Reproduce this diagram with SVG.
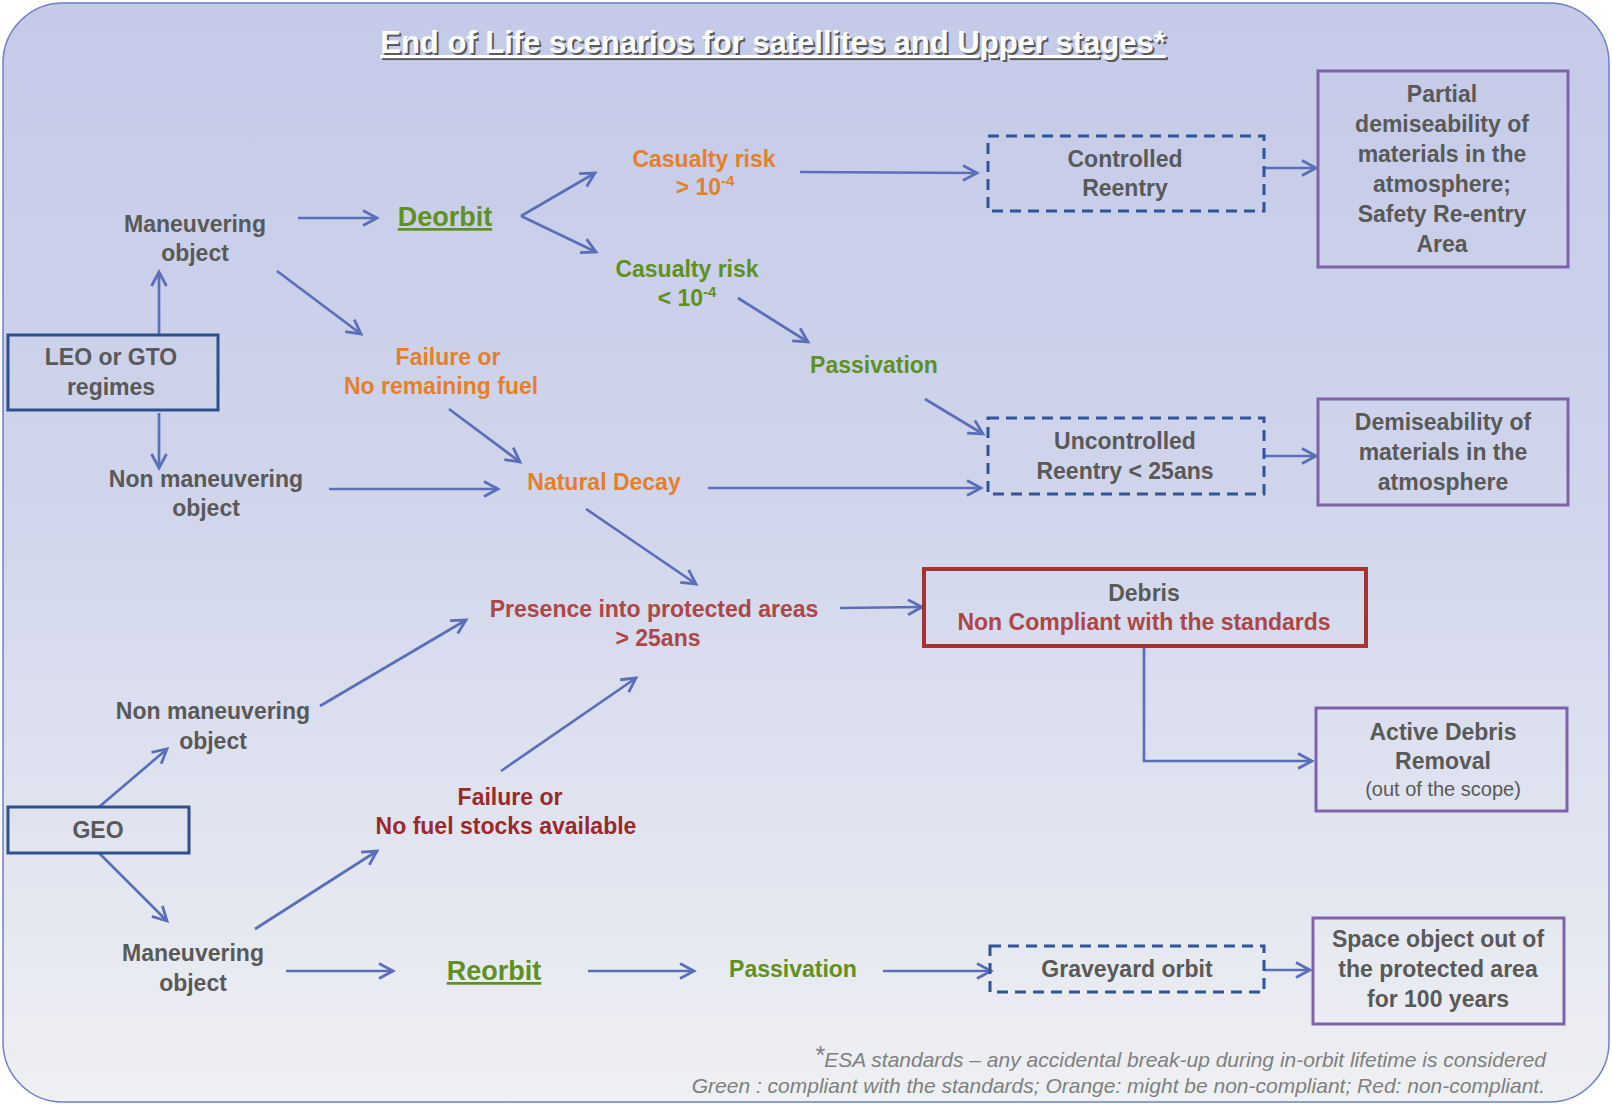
<svg xmlns="http://www.w3.org/2000/svg" width="1612" height="1105" viewBox="0 0 1612 1105">
<defs>
<linearGradient id="bg" x1="0" y1="0" x2="0" y2="1">
<stop offset="0" stop-color="#c4cae8"/>
<stop offset="0.45" stop-color="#d0d5ec"/>
<stop offset="1" stop-color="#eff0f3"/>
</linearGradient>
<marker id="ah" markerWidth="18" markerHeight="18" refX="15" refY="9" orient="auto" markerUnits="userSpaceOnUse">
<path d="M1,1.5 L15,9 L1,16.5" fill="none" stroke="#5b6fb8" stroke-width="2.8"/>
</marker>
<style>
text{font-family:"Liberation Sans",Arial,sans-serif;font-weight:bold;font-size:23px;text-anchor:middle}
.g{fill:#595959}
.or{fill:#e5802a}
.gr{fill:#5f9020}
.rd{fill:#ad4646}
.dr{fill:#9a2a2a}
.big{font-size:27px;text-decoration:underline}
.title{font-size:31px;text-decoration:underline}
.small{font-weight:normal;font-size:20px}
.solid{fill:none;stroke:#2e4f8a;stroke-width:3}
.dash{fill:none;stroke:#2f5597;stroke-width:3;stroke-dasharray:11 7}
.pur{fill:none;stroke:#8062a8;stroke-width:3}
.red{fill:none;stroke:#a83232;stroke-width:4}
#connectors path{fill:none;stroke:#5b6fb8;stroke-width:2.7;marker-end:url(#ah)}
.sup{font-size:15px}
.foot{font-weight:normal;font-style:italic;font-size:21px;fill:#7f7f7f;text-anchor:end}
.ast{font-size:25px}
</style>
</defs>
<rect x="3" y="3" width="1606" height="1099" rx="60" ry="60" fill="url(#bg)" stroke="#6f80c4" stroke-width="1.5"/>
<g id="title">
<text class="title" x="775" y="55" fill="#5a5a5a">End of Life scenarios for satellites and Upper stages*</text>
<text class="title" x="773" y="53" fill="#ffffff">End of Life scenarios for satellites and Upper stages*</text>
</g>
<g id="connectors">
<path d="M159,334 L159,272"/>
<path d="M159,413 L159,468"/>
<path d="M298,218 L377,218"/>
<path d="M277,271 L361,334"/>
<path d="M449,409 L520,462"/>
<path d="M329,489 L498,489"/>
<path d="M521,216 L595,173"/>
<path d="M521,216 L596,252"/>
<path d="M800,172 L977,173"/>
<path d="M738,298 L808,342"/>
<path d="M925,399 L983,434"/>
<path d="M708,488 L981,488"/>
<path d="M1264,168 L1316,168"/>
<path d="M1264,456 L1316,456"/>
<path d="M586,509 L696,584"/>
<path d="M840,608 L922,607"/>
<path d="M1144,646 L1144,761 L1312,761"/>
<path d="M99,807 L167,749"/>
<path d="M99,853 L167,921"/>
<path d="M320,706 L466,620"/>
<path d="M255,929 L377,851"/>
<path d="M501,771 L636,678"/>
<path d="M286,971 L393,971"/>
<path d="M588,971 L694,971"/>
<path d="M883,971 L991,971"/>
<path d="M1264,970 L1310,970"/>
</g>
<g id="leo">
<rect class="solid" x="8" y="335" width="210" height="75"/>
<text class="g" x="111" y="365">LEO or GTO</text>
<text class="g" x="111" y="395">regimes</text>
</g>
<g id="leo-man">
<text class="g" x="195" y="232">Maneuvering</text>
<text class="g" x="195" y="261">object</text>
</g>
<g id="leo-nonman">
<text class="g" x="206" y="487">Non maneuvering</text>
<text class="g" x="206" y="516">object</text>
</g>
<g id="deorbit">
<text class="gr big" x="445" y="226">Deorbit</text>
</g>
<g id="failure-leo">
<text class="or" x="448" y="365">Failure or</text>
<text class="or" x="441" y="394">No remaining fuel</text>
</g>
<g id="natural-decay">
<text class="or" x="604" y="490">Natural Decay</text>
</g>
<g id="casualty-high">
<text class="or" x="704" y="167">Casualty risk</text>
<text class="or" x="705" y="195">&gt; 10<tspan class="sup" dy="-9">-4</tspan></text>
</g>
<g id="casualty-low">
<text class="gr" x="687" y="277">Casualty risk</text>
<text class="gr" x="687" y="306">&lt; 10<tspan class="sup" dy="-9">-4</tspan></text>
</g>
<g id="passivation-leo">
<text class="gr" x="874" y="373">Passivation</text>
</g>
<g id="controlled">
<rect class="dash" x="988" y="136" width="276" height="75"/>
<text class="g" x="1125" y="167">Controlled</text>
<text class="g" x="1125" y="196">Reentry</text>
</g>
<g id="uncontrolled">
<rect class="dash" x="988" y="418" width="276" height="76"/>
<text class="g" x="1125" y="449">Uncontrolled</text>
<text class="g" x="1125" y="479">Reentry &lt; 25ans</text>
</g>
<g id="partial">
<rect class="pur" x="1318" y="71" width="250" height="196"/>
<text class="g" x="1442" y="102">Partial</text>
<text class="g" x="1442" y="132">demiseability of</text>
<text class="g" x="1442" y="162">materials in the</text>
<text class="g" x="1442" y="192">atmosphere;</text>
<text class="g" x="1442" y="222">Safety Re-entry</text>
<text class="g" x="1442" y="252">Area</text>
</g>
<g id="demise">
<rect class="pur" x="1318" y="399" width="250" height="106"/>
<text class="g" x="1443" y="430">Demiseability of</text>
<text class="g" x="1443" y="460">materials in the</text>
<text class="g" x="1443" y="490">atmosphere</text>
</g>
<g id="presence">
<text class="rd" x="654" y="617">Presence into protected areas</text>
<text class="rd" x="658" y="646">&gt; 25ans</text>
</g>
<g id="debris">
<rect class="red" x="924" y="569" width="442" height="77"/>
<text class="g" x="1144" y="601">Debris</text>
<text class="rd" x="1144" y="630">Non Compliant with the standards</text>
</g>
<g id="adr">
<rect class="pur" x="1316" y="708" width="251" height="103"/>
<text class="g" x="1443" y="740">Active Debris</text>
<text class="g" x="1443" y="769">Removal</text>
<text class="g small" x="1443" y="796">(out of the scope)</text>
</g>
<g id="geo">
<rect class="solid" x="8" y="807" width="181" height="46"/>
<text class="g" x="98" y="838">GEO</text>
</g>
<g id="geo-nonman">
<text class="g" x="213" y="719">Non maneuvering</text>
<text class="g" x="213" y="749">object</text>
</g>
<g id="geo-man">
<text class="g" x="193" y="961">Maneuvering</text>
<text class="g" x="193" y="991">object</text>
</g>
<g id="failure-geo">
<text class="dr" x="510" y="805">Failure or</text>
<text class="dr" x="506" y="834">No fuel stocks available</text>
</g>
<g id="reorbit">
<text class="gr big" x="494" y="980">Reorbit</text>
</g>
<g id="passivation-geo">
<text class="gr" x="793" y="977">Passivation</text>
</g>
<g id="graveyard">
<rect class="dash" x="990" y="946" width="274" height="46"/>
<text class="g" x="1127" y="977">Graveyard orbit</text>
</g>
<g id="space-object">
<rect class="pur" x="1313" y="918" width="251" height="106"/>
<text class="g" x="1438" y="947">Space object out of</text>
<text class="g" x="1438" y="977">the protected area</text>
<text class="g" x="1438" y="1007">for 100 years</text>
</g>
<g id="footnote">
<text class="foot" x="1546" y="1067"><tspan class="ast" dy="-3">*</tspan><tspan dy="3">ESA standards – any accidental break-up during in-orbit lifetime is considered</tspan></text>
<text class="foot" x="1545" y="1093">Green : compliant with the standards; Orange: might be non-compliant; Red: non-compliant.</text>
</g>
</svg>
